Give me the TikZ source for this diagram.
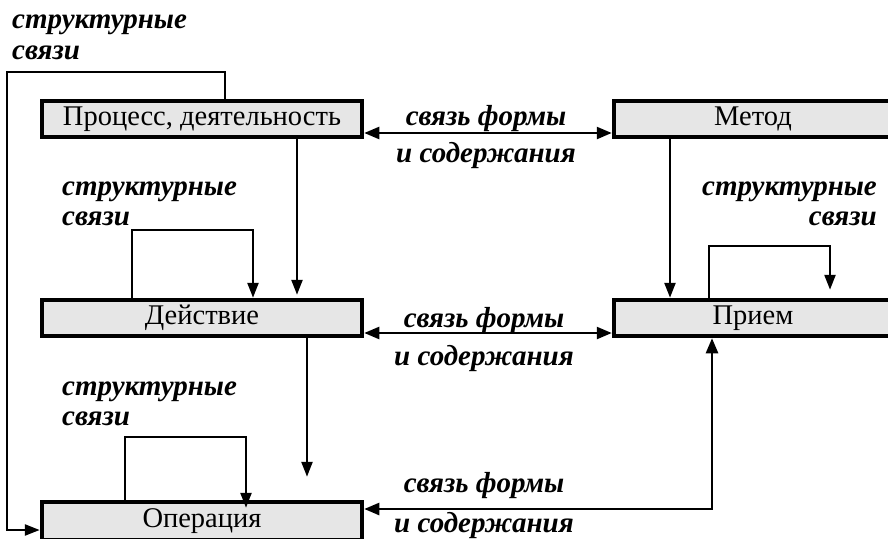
\documentclass[tikz,border=0pt]{standalone}
\usepackage{fontspec}
\setmainfont{Liberation Serif}
\usetikzlibrary{arrows.meta,calc}
\definecolor{boxgray}{HTML}{E6E6E6}
\begin{document}
\begin{tikzpicture}[x=1pt,y=-1pt,
  block/.style={draw=black, line width=4.5pt, fill=boxgray, inner sep=0pt,
    font=\fontsize{28.5}{30}\selectfont},
  conn/.style={line width=2.4pt},
  tip/.style={-{Triangle[length=15pt,width=11pt]}},
  bitip/.style={{Triangle[length=15pt,width=12pt]}-{Triangle[length=15pt,width=12pt]}},
  lbl/.style={font=\fontsize{29}{30}\selectfont\bfseries\itshape, inner sep=0pt},
]
\useasboundingbox (0,0) rectangle (888,538);
\clip (0,0) rectangle (888,538);

% boxes
\node[block, minimum width=320pt, minimum height=36pt] (proc) at (202,119) {Процесс, деятельность};
\node[block, minimum width=278pt, minimum height=36pt] (met) at (753,119) {Метод};
\node[block, minimum width=320pt, minimum height=36pt] (dei) at (202,318) {Действие};
\node[block, minimum width=278pt, minimum height=36pt] (pri) at (753,318) {Прием};
\node[block, minimum width=320pt, minimum height=38pt] (op) at (202,521) {Операция};

% form-content links
\draw[conn,bitip] ($(proc.east)+(0,14)$) -- ($(met.west)+(0,14)$);
\draw[conn,bitip] ($(dei.east)+(0,15)$) -- ($(pri.west)+(0,15)$);
\coordinate (c3) at (712,509);
\draw[conn,bitip] (op.east |- c3) -- (c3) -- (c3 |- pri.south);

% vertical links
\coordinate (v1) at (297,0);
\draw[conn,tip,shorten >=3pt] (proc.south -| v1) -- (dei.north -| v1);
\coordinate (v2) at (307,0);
\draw[conn,tip,shorten >=23pt] (dei.south -| v2) -- (op.north -| v2);
\coordinate (v3) at (670,0);
\draw[conn,tip] (met.south -| v3) -- (pri.north -| v3);

% self loops
\coordinate (l1a) at (132,230); \coordinate (l1b) at (253,230);
\draw[conn,tip] (dei.north -| l1a) -- (l1a) -- (l1b) -- (dei.north -| l1b);
\coordinate (l2a) at (125,437); \coordinate (l2b) at (246,437);
\draw[conn,tip,shorten >=-8pt] (op.north -| l2a) -- (l2a) -- (l2b) -- (op.north -| l2b);
\coordinate (l3a) at (709,246); \coordinate (l3b) at (830,246);
\draw[conn,tip,shorten >=8pt] (pri.north -| l3a) -- (l3a) -- (l3b) -- (pri.north -| l3b);

% outer frame
\coordinate (f1) at (225,72); \coordinate (f2) at (7,72); \coordinate (f3) at (7,530);
\draw[conn,tip] (proc.north -| f1) -- (f1) -- (f2) -- (f3) -- (op.west |- f3);

% labels
\node[lbl, anchor=base west] (t0a) at (12,28) {структурные};
\node[lbl, anchor=base west] (t0b) at (12,59) {связи};
\node[lbl, anchor=base west] (t1a) at (62,195) {структурные};
\node[lbl, anchor=base west] (t1b) at (62,225) {связи};
\node[lbl, anchor=base west] (t2a) at (62,395) {структурные};
\node[lbl, anchor=base west] (t2b) at (62,425) {связи};
\node[lbl, anchor=base east] (t3a) at (877,195) {структурные};
\node[lbl, anchor=base east] (t3b) at (877,225) {связи};

\node[lbl, anchor=base] (u1a) at (486,125) {связь формы};
\node[lbl, anchor=base] (u1b) at (486,162) {и содержания};
\node[lbl, anchor=base] (u2a) at (484,327) {связь формы};
\node[lbl, anchor=base] (u2b) at (484,365) {и содержания};
\node[lbl, anchor=base] (u3a) at (484,492) {связь формы};
\node[lbl, anchor=base] (u3b) at (484,532) {и содержания};
\end{tikzpicture}
\end{document}
